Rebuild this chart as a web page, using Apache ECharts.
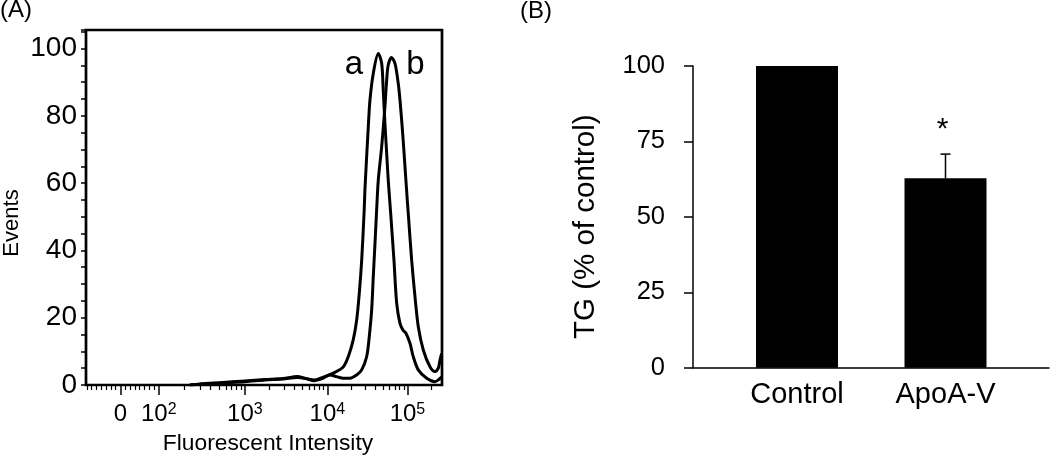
<!DOCTYPE html>
<html><head><meta charset="utf-8">
<script src="https://cdn.jsdelivr.net/npm/echarts@6/dist/echarts.min.js"></script>
<style>html,body{margin:0;padding:0;background:#fff}#c{width:1050px;height:458px}</style>
</head><body><div id="c"></div>
<script>
// ---------- Panel A: flow cytometry histogram ----------
const intensityA = [230, 300, 510, 1000, 1750, 2900, 4300, 5500, 6900, 8600, 10700, 13000, 15800, 18200, 21000, 23200, 25000, 26800, 28800, 29400, 30900, 32400, 34000, 37400, 43200, 47600, 49800, 52300, 55000, 57500, 61700, 67800, 73300, 80600, 87900, 95800, 107500, 118200, 136500, 173800, 220700, 242700, 268000];
const eventsA = [0, 0.3, 0.7, 1.2, 1.6, 1.9, 2.5, 1.9, 1.5, 2.2, 3.1, 4.0, 5.4, 8.4, 13.4, 19.3, 27.2, 37.1, 52.0, 57.9, 67.8, 76.7, 84.7, 92.6, 98.5, 95.6, 87.6, 77.7, 68.8, 60.9, 51.0, 37.1, 24.3, 18.3, 16.3, 15.4, 12.4, 8.4, 4.5, 2.0, 1.0, 1.5, 2.4];
const intensityB = [230, 300, 510, 1000, 1750, 2900, 4300, 5500, 6900, 8600, 10700, 13000, 15800, 19100, 23200, 26800, 30900, 33300, 35700, 37400, 39300, 41200, 43200, 47600, 52300, 55000, 57500, 63100, 69800, 76700, 80600, 87100, 93100, 99400, 102300, 112800, 124200, 136500, 157600, 191100, 220700, 242700, 254800, 267600];
const eventsB = [0, 0.2, 0.6, 1.0, 1.5, 1.8, 2.2, 1.9, 1.3, 1.9, 3.0, 2.5, 2.0, 2.0, 3.0, 4.5, 8.4, 14.3, 22.3, 32.2, 42.1, 52.0, 60.9, 70.8, 82.7, 90.6, 95.1, 97.3, 95.6, 89.6, 84.7, 74.8, 64.9, 55.0, 51.0, 37.1, 26.2, 17.3, 10.4, 5.4, 4.0, 5.0, 7.4, 9.4];
const seriesNamesA = ['a', 'b'];
const xMajorValues = [0, 100, 1000, 10000, 100000];
const xRange = [-90, 270000];
const yTicksA = [0, 20, 40, 60, 80, 100];
const yMaxA = 105.5;

// ---------- Panel B: TG bar chart ----------
const categories = ['Control', 'ApoA-V'];
const tgMeans = [100, 62.8];
const tgErrors = [0, 8];
const significance = ['', '*'];
const yTicksB = [0, 25, 50, 75, 100];

// Biexponential-like display scale (linear around zero, log above 10^2)
const DECADE_UNITS = {2: 73, 3: 159, 4: 241.5, 5: 321.5};
const ZERO_UNIT = 34.7;
function biex(v) {
  if (v <= 100) return ZERO_UNIT + (v / 100) * (DECADE_UNITS[2] - ZERO_UNIT);
  const d = Math.log10(v);
  if (d >= 5) return DECADE_UNITS[5] + (d - 5) * (DECADE_UNITS[5] - DECADE_UNITS[4]);
  const k = Math.floor(d);
  return DECADE_UNITS[k] + (d - k) * (DECADE_UNITS[k + 1] - DECADE_UNITS[k]);
}
const minorValues = [];
for (let k = -7; k <= 7; k++) if (k !== 0) minorValues.push(k * 12.5);
for (let n = 2; n <= 5; n++) for (let m = 2; m <= 9; m++) { const v = m * Math.pow(10, n); if (v <= xRange[1]) minorValues.push(v); }

const majorDisplay = xMajorValues.map(biex);
function majorLabel(v) { return v === 0 ? '{b|0}' : '{b|10}{s|' + Math.round(Math.log10(v)) + '}'; }

const FONT = 'Liberation Sans, Arial, sans-serif';
const chart = echarts.init(document.getElementById('c'), null, {renderer: 'canvas'});

const option = {
  animation: false,
  backgroundColor: '#fff',
  textStyle: {fontFamily: FONT, color: '#000'},
  grid: [
    {left: 86, top: 30, width: 356, height: 355, show: true, borderColor: '#000', borderWidth: 2.7, backgroundColor: 'transparent'},
    {left: 693, top: 66, width: 356, height: 301.7},
    {left: 722.75, top: 66, width: 297, height: 301.7}
  ],
  xAxis: [
    {gridIndex: 0, type: 'value', position: 'bottom', min: biex(xRange[0]), max: biex(xRange[1]),
     axisLine: {show: false}, splitLine: {show: false},
     axisTick: {show: true, length: 10, lineStyle: {color: '#000', width: 1.5}, customValues: majorDisplay},
     axisLabel: {show: true, margin: 17, color: '#000', customValues: majorDisplay,
       formatter: function (val) {
         let best = 0;
         for (let i = 0; i < majorDisplay.length; i++) if (Math.abs(majorDisplay[i] - val) < Math.abs(majorDisplay[best] - val)) best = i;
         return majorLabel(xMajorValues[best]);
       },
       rich: {b: {fontSize: 24, fontFamily: FONT, color: '#000'}, s: {fontSize: 16, fontFamily: FONT, color: '#000', verticalAlign: 'top'}}}
    },
    {gridIndex: 0, type: 'value', position: 'bottom', offset: 0, min: biex(xRange[0]), max: biex(xRange[1]),
     axisLine: {show: false}, splitLine: {show: false}, axisLabel: {show: false},
     axisTick: {show: true, length: 5, lineStyle: {color: '#000', width: 1.2}, customValues: minorValues.map(biex)}
    },
    {gridIndex: 1, type: 'value', min: 0, max: 1,
     axisLine: {show: true, lineStyle: {color: '#000', width: 1.5}}, axisTick: {show: false}, axisLabel: {show: false}, splitLine: {show: false}
    },
    {gridIndex: 2, type: 'category', data: categories,
     axisLine: {show: false}, axisTick: {show: false}, splitLine: {show: false},
     axisLabel: {fontSize: 29, margin: 13, color: '#000', fontFamily: FONT}
    }
  ],
  yAxis: [
    {gridIndex: 0, type: 'value', min: 0, max: yMaxA, interval: 5,
     axisLine: {show: false}, splitLine: {show: false},
     axisTick: {show: true, length: 5, lineStyle: {color: '#000', width: 1.5}},
     axisLabel: {fontSize: 28, margin: 9, color: '#000', fontFamily: FONT,
       formatter: function (v) { return yTicksA.indexOf(v) >= 0 ? String(v) : ''; }}
    },
    {gridIndex: 1, type: 'value', min: yTicksB[0], max: yTicksB[yTicksB.length - 1], interval: 25,
     axisLine: {show: true, lineStyle: {color: '#000', width: 1.5}}, splitLine: {show: false},
     axisTick: {show: true, length: 9, lineStyle: {color: '#000', width: 1.5}},
     axisLabel: {fontSize: 25.5, margin: 28, color: '#000', fontFamily: FONT}
    },
    {gridIndex: 2, type: 'value', min: yTicksB[0], max: yTicksB[yTicksB.length - 1], show: false, splitLine: {show: false}}
  ],
  series: [
    {name: seriesNamesA[0], type: 'line', xAxisIndex: 0, yAxisIndex: 0, symbol: 'none', smooth: 0.3,
     lineStyle: {color: '#000', width: 3}, data: intensityA.map((v, i) => [biex(v), eventsA[i]])},
    {name: seriesNamesA[1], type: 'line', xAxisIndex: 0, yAxisIndex: 0, symbol: 'none', smooth: 0.3,
     lineStyle: {color: '#000', width: 3}, data: intensityB.map((v, i) => [biex(v), eventsB[i]])},
    {type: 'bar', xAxisIndex: 3, yAxisIndex: 2, barWidth: 82, itemStyle: {color: '#000'}, data: tgMeans},
    {type: 'custom', xAxisIndex: 3, yAxisIndex: 2, z: 5,
     data: categories.map((c, i) => [i, tgMeans[i], tgMeans[i] + tgErrors[i]]),
     renderItem: function (params, api) {
       const base = api.coord([api.value(0), api.value(1)]);
       const top = api.coord([api.value(0), api.value(2)]);
       const children = [];
       if (api.value(2) > api.value(1)) {
         children.push({type: 'line', shape: {x1: top[0], y1: base[1], x2: top[0], y2: top[1]}, style: {stroke: '#000', lineWidth: 1.5}});
         children.push({type: 'line', shape: {x1: top[0] - 5, y1: top[1], x2: top[0] + 5, y2: top[1]}, style: {stroke: '#000', lineWidth: 1.5}});
       }
       const sig = significance[params.dataIndex];
       if (sig) children.push({type: 'text', x: top[0] - 3, y: top[1] - 24,
         style: {text: sig, fontSize: 30, fontFamily: FONT, fill: '#000', align: 'center', verticalAlign: 'middle'}});
       return {type: 'group', children: children};
     }}
  ],
  graphic: [
    {type: 'text', x: 0, y: 10.5, style: {text: '(A)', fontSize: 24, fontFamily: FONT, fill: '#000', align: 'left', verticalAlign: 'middle'}},
    {type: 'text', x: 520, y: 11.5, style: {text: '(B)', fontSize: 24, fontFamily: FONT, fill: '#000', align: 'left', verticalAlign: 'middle'}},
    {type: 'text', x: 12, y: 223, rotation: Math.PI / 2, style: {text: 'Events', fontSize: 22, fontFamily: FONT, fill: '#000', align: 'center', verticalAlign: 'middle'}},
    {type: 'text', x: 268, y: 443.5, style: {text: 'Fluorescent Intensity', fontSize: 22.8, fontFamily: FONT, fill: '#000', align: 'center', verticalAlign: 'middle'}},
    {type: 'text', x: 354, y: 64.5, style: {text: seriesNamesA[0], fontSize: 33, fontFamily: FONT, fill: '#000', align: 'center', verticalAlign: 'middle'}},
    {type: 'text', x: 415.5, y: 64.5, style: {text: seriesNamesA[1], fontSize: 33, fontFamily: FONT, fill: '#000', align: 'center', verticalAlign: 'middle'}},
    {type: 'text', x: 585.5, y: 226.7, rotation: Math.PI / 2, style: {text: 'TG (% of control)', fontSize: 29.5, fontFamily: FONT, fill: '#000', align: 'center', verticalAlign: 'middle'}}
  ]
};
chart.setOption(option);
</script>
</body></html>
